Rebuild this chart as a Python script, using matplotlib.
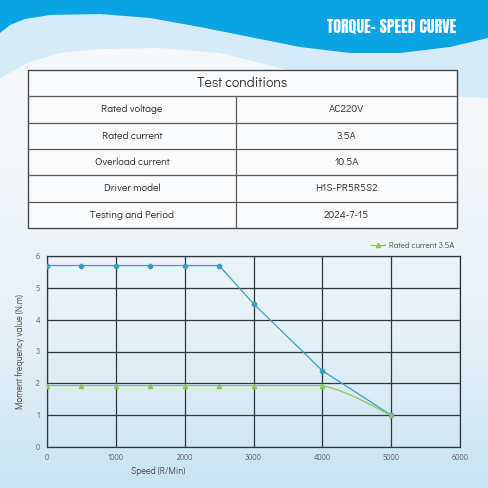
import numpy as np
import matplotlib
matplotlib.use("Agg")
import matplotlib.pyplot as plt
from matplotlib.path import Path
from matplotlib.patches import PathPatch, Rectangle
from matplotlib.colors import LinearSegmentedColormap

# ---------------- data ----------------
speed = [0, 500, 1000, 1500, 2000, 2500, 3000, 4000, 5000]
torque_peak = [5.7, 5.7, 5.7, 5.7, 5.7, 5.7, 4.5, 2.4, 1.0]
torque_rated = [1.93, 1.93, 1.93, 1.93, 1.93, 1.93, 1.93, 1.93, 1.0]
legend_label = "Rated current 3.5A"
x_ticks = [0, 1000, 2000, 3000, 4000, 5000, 6000]
y_ticks = [0, 1, 2, 3, 4, 5, 6]
x_label = "Speed (R/Min)"
y_label = "Moment frequency value (N.m)"
title = "TORQUE- SPEED CURVE"
table_header = "Test conditions"
table_keys = ["Rated voltage", "Rated current", "Overload current", "Driver model", "Testing and Period"]
table_vals = ["AC220V", "3.5A", "10.5A", "H1S-PR5R5S2", "2024-7-15"]

W = H = 488
fig = plt.figure(figsize=(4.88, 4.88), dpi=100)
tfont = ["Didact Gothic", "Jost", "Inter", "DejaVu Sans"]

# ---------------- background ----------------
bg = fig.add_axes([0, 0, 1, 1])
bg.set_xlim(0, W)
bg.set_ylim(H, 0)
bg.axis("off")
grad = LinearSegmentedColormap.from_list("g", ["#f7f9fb", "#f4f7fa", "#e6f1f7", "#c9e4f2"])
bg.imshow(np.linspace(0, 1, 256).reshape(-1, 1), cmap=grad, extent=[0, W, H, 0],
          aspect="auto", zorder=0)
# light band
lx = [0, 30, 60, 100, 160, 220, 280, 350, 420, 488]
ly = [78, 62, 53, 49, 48, 53, 68, 85, 95, 98]
bg.fill_between(lx, 0, ly, color="#d5ebf7", zorder=1, lw=0)
# blue band
bx = [0, 10, 25, 50, 100, 150, 200, 250, 300, 350, 400, 450, 488]
by = [33, 25, 19, 15, 14, 18, 27, 37, 47, 53, 53, 47, 38]
bg.fill_between(bx, 0, by, color="#0aa3e3", zorder=2, lw=0)
bg.text(392, 27, title, color="white", fontsize=11.5,
        family=["Anton", "Oswald", "Barlow Condensed", "DejaVu Sans"],
        fontweight="bold", ha="center", va="center", zorder=3)

# ---------------- table ----------------
tl, tr, tt, tb = 28, 457, 70, 228
colx = 236
rows_y = np.linspace(tt, tb, len(table_keys) + 2)
bg.add_patch(Rectangle((tl, tt), tr - tl, tb - tt, facecolor="#fafbfc", edgecolor="#4a4a4a",
                       lw=1.0, zorder=4))
for yy in rows_y[1:-1]:
    bg.plot([tl, tr], [yy, yy], color="#5a5a5a", lw=0.9, zorder=5)
bg.plot([colx, colx], [rows_y[1], tb], color="#5a5a5a", lw=0.9, zorder=5)
bg.text((tl + tr) / 2, (rows_y[0] + rows_y[1]) / 2, table_header, ha="center", va="center",
        fontsize=10, color="#2a2a2a", family=tfont, zorder=6)
for i, (k, v) in enumerate(zip(table_keys, table_vals)):
    yc = (rows_y[i + 1] + rows_y[i + 2]) / 2
    bg.text((tl + colx) / 2, yc, k, ha="center", va="center", fontsize=7.6,
            color="#2a2a2a", family=tfont, zorder=6)
    bg.text((colx + tr) / 2, yc, v, ha="center", va="center", fontsize=7.6,
            color="#2a2a2a", family=tfont, zorder=6)

# ---------------- chart ----------------
ax = fig.add_axes([47 / W, 1 - 447 / H, (460 - 47) / W, (447 - 256) / H])
ax.patch.set_alpha(0)
ax.set_xlim(0, 6000)
ax.set_ylim(0, 6)
ax.set_xticks(x_ticks)
ax.set_yticks(y_ticks)
ax.grid(True, color="#2e3a3f", lw=0.9)
ax.set_axisbelow(True)
for s in ax.spines.values():
    s.set_color("#2e3a3f")
    s.set_linewidth(0.9)
ax.tick_params(length=0, labelsize=5.5, labelcolor="#4a4a4a", pad=5)
for lab in ax.get_xticklabels() + ax.get_yticklabels():
    lab.set_family(tfont)

blue = "#3a9fc6"
green = "#8cc654"
ax.plot(speed, torque_peak, color=blue, lw=0.9, marker="o", ms=3, zorder=3)

# smoothed green line (monotone-clamped cubic Bezier through the data points)
pts = np.column_stack([speed, torque_rated]).astype(float)
s = 0.2
verts = [tuple(pts[0])]
codes = [Path.MOVETO]
n = len(pts)
for i in range(n - 1):
    p0 = pts[i - 1] if i > 0 else pts[i]
    p1, p2 = pts[i], pts[i + 1]
    p3 = pts[i + 2] if i + 2 < n else pts[i + 1]
    c1 = p1 + (p2 - p0) * s
    c2 = p2 - (p3 - p1) * s
    lo, hi = min(p1[1], p2[1]), max(p1[1], p2[1])
    c1[1] = np.clip(c1[1], lo, hi)
    c2[1] = np.clip(c2[1], lo, hi)
    verts += [tuple(c1), tuple(c2), tuple(p2)]
    codes += [Path.CURVE4] * 3
ax.add_patch(PathPatch(Path(verts, codes), facecolor="none", edgecolor=green, lw=0.9, zorder=4))
ax.plot(speed, torque_rated, ls="none", color=green, marker="^", ms=3, zorder=4)
ax.plot([], [], color=green, lw=0.9, marker="^", ms=3, label=legend_label)

leg = ax.legend(loc="lower right", bbox_to_anchor=(1.0, 1.0), frameon=False,
                prop={"family": tfont, "size": 6},
                handlelength=1.6, borderpad=0.2, handletextpad=0.5, labelcolor="#444444")
ax.set_xlabel(x_label, fontsize=6.5, color="#444444", family=tfont)
ax.xaxis.set_label_coords(0.268, -0.1)
ax.set_ylabel(y_label, fontsize=6.5, color="#444444", family=tfont, labelpad=8)

fig.savefig("out.png", dpi=100)
